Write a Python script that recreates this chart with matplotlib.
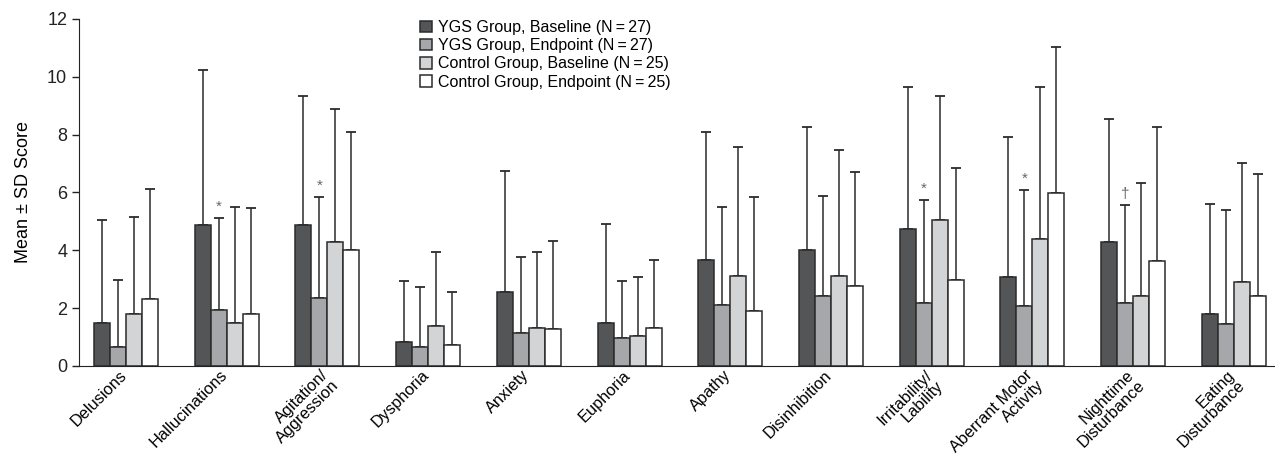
import numpy as np
import matplotlib
matplotlib.use("Agg")
import matplotlib.pyplot as plt
from matplotlib.transforms import ScaledTranslation

plt.rcParams['font.family'] = ['Liberation Sans', 'DejaVu Sans']

categories = ["Delusions", "Hallucinations", "Agitation/\nAggression", "Dysphoria",
              "Anxiety", "Euphoria", "Apathy", "Disinhibition", "Irritability/\nLability",
              "Aberrant Motor\nActivity", "Nighttime\nDisturbance", "Eating\nDisturbance"]

series = ["YGS Group, Baseline (N\u2009=\u200927)", "YGS Group, Endpoint (N\u2009=\u200927)",
          "Control Group, Baseline (N\u2009=\u200925)", "Control Group, Endpoint (N\u2009=\u200925)"]

ygs_base = [1.47, 4.88, 4.88, 0.84, 2.56, 1.50, 3.68, 4.02, 4.75, 3.09, 4.30, 1.81]
ygs_base_sd = [3.56, 5.34, 4.45, 2.09, 4.18, 3.40, 4.41, 4.25, 4.90, 4.84, 4.25, 3.79]
ygs_end = [0.65, 1.94, 2.35, 0.65, 1.13, 0.95, 2.10, 2.43, 2.19, 2.09, 2.16, 1.46]
ygs_end_sd = [2.32, 3.17, 3.48, 2.09, 2.62, 1.98, 3.40, 3.45, 3.56, 4.00, 3.40, 3.92]
ctl_base = [1.81, 1.50, 4.30, 1.39, 1.30, 1.03, 3.12, 3.12, 5.04, 4.38, 2.43, 2.89]
ctl_base_sd = [3.34, 4.00, 4.58, 2.56, 2.65, 2.04, 4.44, 4.35, 4.29, 5.27, 3.88, 4.14]
ctl_end = [2.32, 1.81, 4.02, 0.73, 1.27, 1.30, 1.89, 2.78, 2.97, 5.97, 3.63, 2.43]
ctl_end_sd = [3.81, 3.65, 4.07, 1.83, 3.06, 2.38, 3.94, 3.92, 3.89, 5.07, 4.64, 4.20]

# significance marks above the YGS endpoint bars
marks = {1: "*", 2: "*", 8: "*", 9: "*", 10: "\u2020"}

means = [ygs_base, ygs_end, ctl_base, ctl_end]
sds = [ygs_base_sd, ygs_end_sd, ctl_base_sd, ctl_end_sd]
colors = ["#545557", "#a6a7aa", "#d3d4d5", "#ffffff"]

fig = plt.figure(figsize=(12.75, 4.71), dpi=100)
ax = fig.add_axes([0.062, 0.223, 0.938, 0.737])

x = np.arange(len(categories))
w = 0.159
for k in range(4):
    xs = x + (k - 1.5) * w
    m = np.array(means[k])
    s = np.array(sds[k])
    ax.bar(xs, m, width=w, color=colors[k], edgecolor="#2b2b2b", linewidth=1.1,
           label=series[k], zorder=2)
    ax.errorbar(xs, m, yerr=[np.zeros_like(s), s], fmt="none", ecolor="#2b2b2b",
                elinewidth=1.1, capsize=3.5, capthick=1.3, zorder=1)
    if k == 1:
        for i, sym in marks.items():
            ax.text(xs[i], m[i] + s[i] + 0.15, sym, ha="center", va="bottom",
                    fontsize=11, color="#666666")

ax.set_xlim(-0.467, 11.41)
ax.set_ylim(0, 12)
ax.set_yticks(np.arange(0, 13, 2))
ax.tick_params(axis="y", labelsize=13, direction="out", length=5, width=1, colors="#222222")
ax.tick_params(axis="x", length=0, pad=1)
ax.set_xticks(x)
ax.set_xticklabels(categories, rotation=45, ha="right", va="top", multialignment="right",
                   rotation_mode="anchor", fontsize=11.8, linespacing=1.0)
# nudge the slanted labels a little to the left of the group centre
shift = ScaledTranslation(-0.07, 0.0, fig.dpi_scale_trans)
for lab in ax.get_xticklabels():
    lab.set_transform(lab.get_transform() + shift)
ax.set_ylabel("Mean \u00b1 SD Score", fontsize=13, labelpad=11)
for side in ("top", "right"):
    ax.spines[side].set_visible(False)
ax.spines["left"].set_color("#222222")
ax.spines["bottom"].set_color("#222222")

ax.legend(loc="upper left", bbox_to_anchor=(0.280, 1.015), frameon=False, fontsize=11.5,
          handlelength=0.75, handleheight=0.75, handletextpad=0.35, labelspacing=0.2,
          borderaxespad=0)

fig.savefig("out.png", dpi=100)
